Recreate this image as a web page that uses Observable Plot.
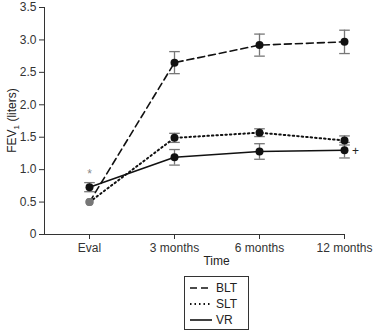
<!DOCTYPE html>
<html><head><meta charset="utf-8">
<script src="https://cdn.jsdelivr.net/npm/d3@7"></script>
<script src="https://cdn.jsdelivr.net/npm/@observablehq/plot@0.6"></script>
<style>
body{margin:0;background:#fff;font-family:"Liberation Sans",Arial,sans-serif;}
#wrap{position:relative;width:374px;height:332px;}
#legend{position:absolute;left:184px;top:276px;width:63px;height:52px;border:1px solid #333;font-size:12px;color:#222;}
#legend .row{display:flex;align-items:center;height:16px;padding-left:5px;}
#legend .row:first-child{margin-top:3px;}
#legend svg{margin-right:4px;}
</style></head>
<body><div id="wrap"><div id="chart"></div><div id="legend"></div></div>
<script>
const times = ["Eval", "3 months", "6 months", "12 months"];
const series = ["BLT", "SLT", "VR"];
const bltMean = [0.50, 2.65, 2.92, 2.97];
const bltErr  = [0, 0.17, 0.17, 0.18];
const sltMean = [0.50, 1.49, 1.57, 1.45];
const sltErr  = [0, 0.07, 0.06, 0.07];
const vrMean  = [0.73, 1.19, 1.28, 1.30];
const vrErr   = [0.07, 0.12, 0.12, 0.12];
const yTicks = [0, 0.5, 1.0, 1.5, 2.0, 2.5, 3.0, 3.5];
const starNote = [{time: "Eval", value: 0.93, text: "*"}];
const plusNote = [{time: "12 months", value: 1.28, text: "+"}];

const dashes = {BLT: "7,4", SLT: "1.5,3", VR: null};
const widths = {BLT: 1.6, SLT: 2, VR: 1.6};
const means = {BLT: bltMean, SLT: sltMean, VR: vrMean};
const errs = {BLT: bltErr, SLT: sltErr, VR: vrErr};
const rows = series.flatMap(s => times.map((t, i) => ({series: s, time: t, value: means[s][i], err: errs[s][i]})));
const errRows = rows.filter(d => d.err > 0);
const blackDots = rows.filter(d => !(d.time === "Eval" && d.series !== "VR"));
const grayDots = rows.filter(d => d.time === "Eval" && d.series !== "VR");

const hline = {draw(ctx, size) { const w = Math.sqrt(size); ctx.moveTo(-w, 0); ctx.lineTo(w, 0); }};

const lineMarks = series.map(s => Plot.line(rows.filter(d => d.series === s), {
  x: "time", y: "value", stroke: "#111", strokeWidth: widths[s], strokeDasharray: dashes[s]
}));

const chart = Plot.plot({
  width: 374, height: 270,
  marginLeft: 44, marginRight: 30, marginTop: 7, marginBottom: 36,
  style: {fontFamily: "Liberation Sans, Arial, sans-serif", fontSize: "12px", color: "#333"},
  x: {type: "point", domain: times, range: [89, 344], padding: 0},
  y: {domain: [0, 3.5], ticks: yTicks},
  marks: [
    Plot.axisY({ticks: yTicks, tickSize: 5, tickPadding: 3, tickFormat: d => d === 0 ? "0" : d.toFixed(1), label: null, fontSize: 12}),
    Plot.axisX({tickSize: 5, tickPadding: 4, label: null, fontSize: 12}),
    Plot.frame({anchor: "left", stroke: "#333"}),
    Plot.frame({anchor: "bottom", stroke: "#333"}),
    Plot.ruleX(errRows, {x: "time", y1: d => d.value - d.err, y2: d => d.value + d.err, stroke: "#777", strokeWidth: 1.3}),
    Plot.dot(errRows, {x: "time", y: d => d.value - d.err, symbol: hline, r: 3, stroke: "#777", strokeWidth: 1.3}),
    Plot.dot(errRows, {x: "time", y: d => d.value + d.err, symbol: hline, r: 3, stroke: "#777", strokeWidth: 1.3}),
    ...lineMarks,
    Plot.dot(grayDots, {x: "time", y: "value", r: 4, fill: "#777"}),
    Plot.dot(blackDots, {x: "time", y: "value", r: 4, fill: "#111"}),
    Plot.text(starNote, {x: "time", y: "value", text: "text", fill: "#888", fontSize: 12}),
    Plot.text(plusNote, {x: "time", y: "value", text: "text", dx: 11, fill: "#222", fontSize: 12})
  ]
});
const svg = d3.select(chart);
document.getElementById("chart").appendChild(chart);

const xs = chart.scale("x");
const xMid = (xs.apply(times[0]) + xs.apply(times[times.length - 1])) / 2;
svg.append("text").attr("x", xMid).attr("y", 265).attr("text-anchor", "middle")
  .attr("font-size", 12).attr("fill", "#222").text("Time");
const ys = chart.scale("y");
const yMid = (ys.apply(0) + ys.apply(3.5)) / 2;
const yl = svg.append("text").attr("transform", `translate(16,${yMid}) rotate(-90)`).attr("text-anchor", "middle")
  .attr("font-size", 12).attr("fill", "#222");
yl.append("tspan").text("FEV");
yl.append("tspan").attr("font-size", 8).attr("dy", 3).text("1");
yl.append("tspan").attr("dy", -3).text(" (liters)");

const leg = d3.select("#legend");
series.forEach(s => {
  const row = leg.append("div").attr("class", "row");
  const sv = row.append("svg").attr("width", 22).attr("height", 10);
  sv.append("line").attr("x1", 0).attr("x2", 22).attr("y1", 5).attr("y2", 5)
    .attr("stroke", "#111").attr("stroke-width", widths[s]).attr("stroke-dasharray", dashes[s]);
  row.append("span").text(s);
});
</script></body></html>
